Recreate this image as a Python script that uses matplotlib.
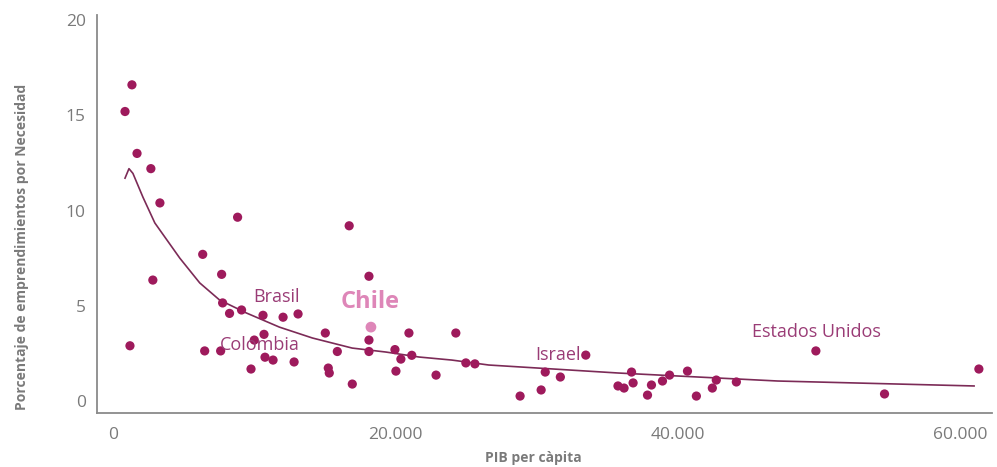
import matplotlib
matplotlib.use("Agg")
import matplotlib.pyplot as plt
from matplotlib.ticker import FuncFormatter

plt.rcParams['font.family'] = ['Open Sans', 'DejaVu Sans']

# Country points: PIB per cápita vs % emprendimientos por necesidad
gdp = [850, 1340, 1700, 2680, 3320, 2820, 1200, 6350, 7690, 8820, 7760, 8250, 9100,
       10620, 12040, 13100, 6490, 7620, 10690, 10000, 10760, 11330, 9770, 12820,
       15030, 15240, 15310, 15880, 16940, 16720, 18120, 18120, 18120, 19960,
       20380, 20030, 21150, 20950, 22870, 24270, 24980, 25620,
       28820, 30310, 30600, 31670, 33470, 35750, 36180, 36710, 36820, 37840, 38120,
       38900, 39400, 40670, 41300, 42430, 42710, 44130, 49760, 54620, 61300]
pct = [15.2, 16.6, 13.0, 12.2, 10.4, 6.35, 2.9, 7.7, 6.65, 9.65, 5.15, 4.6, 4.78,
       4.5, 4.4, 4.57, 2.63, 2.63, 3.5, 3.2, 2.3, 2.15, 1.68, 2.05,
       3.57, 1.73, 1.47, 2.6, 0.89, 9.2, 6.55, 3.2, 2.6, 2.7,
       2.2, 1.57, 2.4, 3.57, 1.36, 3.57, 2.0, 1.95,
       0.26, 0.58, 1.52, 1.26, 2.41, 0.79, 0.68, 1.52, 0.95, 0.31, 0.84,
       1.05, 1.36, 1.57, 0.26, 0.68, 1.1, 1.0, 2.63, 0.37, 1.68]

chile_gdp = [18260]
chile_pct = [3.88]

# Fitted curve
curve_x = [850, 1130, 1410, 2120, 2960, 4730, 6140, 7550, 9450, 11780, 14110,
           16930, 19330, 21660, 23990, 26600, 35770, 41410, 47060, 60960]
curve_y = [11.7, 12.2, 11.95, 10.7, 9.35, 7.5, 6.2, 5.3, 4.62, 3.88, 3.31,
           2.78, 2.57, 2.31, 2.15, 1.89, 1.47, 1.26, 1.05, 0.79]

labels = ["Brasil", "Colombia", "Israel", "Estados Unidos"]
label_x = [11540, 10400, 31500, 49770]
label_y = [5.46, 2.94, 2.41, 3.62]

xticks = [0, 20000, 40000, 60000]
yticks = [0, 5, 10, 15, 20]

dot_color = "#9E1A5C"
curve_color = "#7C2B57"
label_color = "#9A3C76"
chile_color = "#DE86B8"
gray = "#7A7A7A"

fig = plt.figure(figsize=(9.97, 4.67), dpi=100)
ax = fig.add_axes([0.0973, 0.1156, 0.8977, 0.852])

ax.plot(curve_x, curve_y, color=curve_color, lw=1.2, zorder=2)
ax.scatter(gdp, pct, s=44, color=dot_color, edgecolors='none', zorder=3)
ax.scatter(chile_gdp, chile_pct, s=60, color=chile_color, edgecolors='none', zorder=3)

for t, x, y in zip(labels, label_x, label_y):
    ax.text(x, y, t, color=label_color, fontsize=13, ha='center', va='center', zorder=4)
ax.text(18200, 5.2, "Chile", color=chile_color, fontsize=17, fontweight='bold',
        ha='center', va='center', zorder=4)

ax.set_xlim(-1133, 62230)
ax.set_ylim(-0.63, 20.26)
ax.set_xticks(xticks)
ax.set_yticks(yticks)
ax.xaxis.set_major_formatter(FuncFormatter(lambda v, p: "0" if v == 0 else f"{int(v):,}".replace(",", ".")))
ax.tick_params(axis='both', length=0, labelsize=12.5, labelcolor=gray)
ax.tick_params(axis='x', pad=10)
ax.tick_params(axis='y', pad=8)

for s in ['top', 'right']:
    ax.spines[s].set_visible(False)
for s in ['left', 'bottom']:
    ax.spines[s].set_color("#8A8A8A")
    ax.spines[s].set_linewidth(1.3)

ax.set_xlabel("PIB per càpita", fontsize=10, fontweight='bold', color=gray)
ax.xaxis.set_label_coords(0.487, -0.095)
ax.set_ylabel("Porcentaje de emprendimientos por Necesidad", fontsize=10,
              fontweight='bold', color=gray)
ax.yaxis.set_label_coords(-0.076, 0.417)

fig.savefig("out.png", dpi=100, facecolor='white')
